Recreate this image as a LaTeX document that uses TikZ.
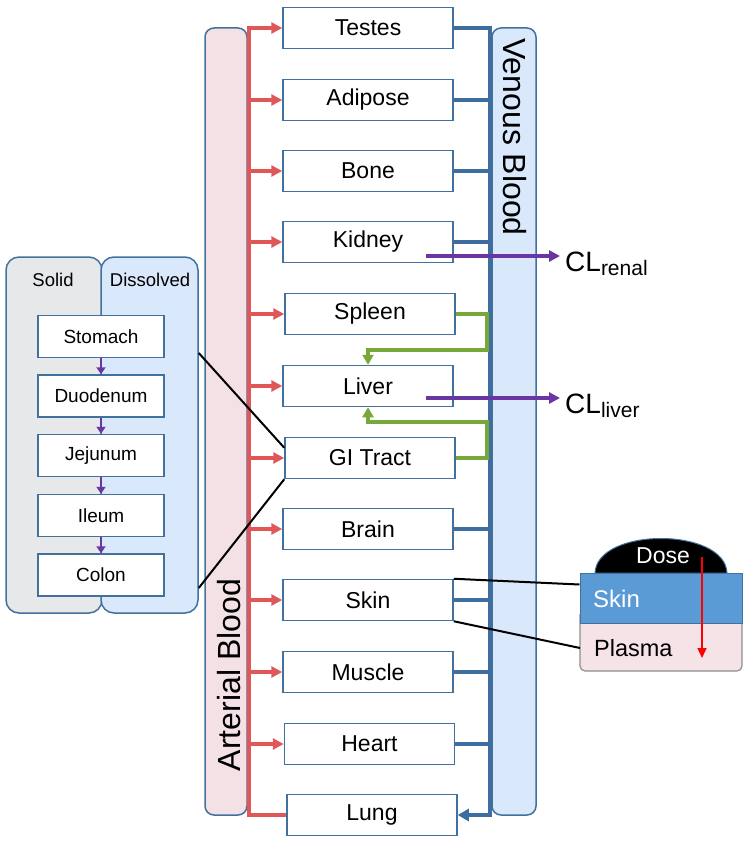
\documentclass[tikz,border=0pt]{standalone}
\usepackage{fontspec}
\setmainfont{Liberation Sans}
\usetikzlibrary{arrows.meta}
\definecolor{boxblue}{HTML}{41719C}
\definecolor{artred}{HTML}{E05757}
\definecolor{venblue}{HTML}{3E6E9F}
\definecolor{artfill}{HTML}{F3E1E6}
\definecolor{venfill}{HTML}{DAE8FC}
\definecolor{solidfill}{HTML}{E7E8EA}
\definecolor{grn}{HTML}{76A83A}
\definecolor{purp}{HTML}{6A36A4}
\definecolor{skinblue}{HTML}{5B9BD5}
\definecolor{plasmafill}{HTML}{F5E3E8}
\definecolor{plasmaedge}{HTML}{8E8E8E}
\begin{document}
\begin{tikzpicture}[x=1pt,y=-1pt,
  organ/.style={draw=boxblue, line width=1.5pt, fill=white, minimum width=170pt, minimum height=41pt, inner sep=0pt, font=\fontsize{23}{27}\selectfont},
  gibox/.style={draw=boxblue, line width=1.5pt, fill=white, minimum width=126pt, minimum height=42pt, inner sep=0pt, font=\fontsize{19}{23}\selectfont},
  barbox/.style={draw=boxblue, line width=1.5pt, rounded corners=9pt},
  redbr/.style={draw=artred, line width=3.5pt, -{Triangle[length=11pt,width=11pt]}},
  redtr/.style={draw=artred, line width=4pt},
  bluebr/.style={draw=venblue, line width=3.5pt},
  bluetr/.style={draw=venblue, line width=4pt},
  grnarrow/.style={draw=grn, line width=3.5pt, -{Triangle[length=10pt,width=11pt]}},
  purarrow/.style={draw=purp, line width=3.5pt, -{Triangle[length=11pt,width=11pt]}},
  giarrow/.style={draw=purp, line width=2pt, -{Triangle[length=7pt,width=9pt]}},
  blk/.style={draw=black, line width=2pt},
  bigtxt/.style={font=\fontsize{32}{36}\selectfont, inner sep=0pt},
  cltxt/.style={font=\fontsize{28}{32}\selectfont, inner sep=0pt, anchor=base west},
]
\useasboundingbox (0,0) rectangle (750,843);

% blood bars
\draw[barbox, fill=artfill] (205,28) rectangle (247,815);
\draw[barbox, fill=venfill] (492,28) rectangle (536,815);
\node[bigtxt, rotate=90] (artlabel) at (229,675) {Arterial Blood};
\node[bigtxt, rotate=-90] (venlabel) at (515,137) {Venous Blood};

% GI panel
\draw[barbox, rounded corners=13pt, fill=solidfill] (6,257) rectangle (102,613);
\node[barbox, rounded corners=13pt, fill=venfill, minimum width=97pt, minimum height=356pt, inner sep=0pt] (dis) at (149.5,435) {};
\node[font=\fontsize{18.5}{22}\selectfont] (solidlab) at (53,280) {Solid};
\node[font=\fontsize{18.5}{22}\selectfont] (dislab) at (150,280) {Dissolved};

% organs
\node[organ] (Testes)  at (368,28)  {Testes};
\node[organ] (Adipose) at (368,100) {Adipose};
\node[organ] (Bone)    at (368,171) {Bone};
\node[organ] (Kidney)  at (368,242) {Kidney};
\node[organ] (Spleen)  at (370,314) {Spleen};
\node[organ] (Liver)   at (368,386) {Liver};
\node[organ] (GI)      at (370,458) {GI Tract};
\node[organ] (Brain)   at (368,529) {Brain};
\node[organ] (Skin)    at (368,600) {Skin};
\node[organ] (Muscle)  at (368,672) {Muscle};
\node[organ] (Heart)   at (369.5,744) {Heart};
\node[organ] (Lung)    at (372,815) {Lung};

\coordinate (ax) at (249,0);
\coordinate (vx) at (490,0);
\coordinate (gx) at (487,0);

% arterial trunk and branches
\draw[redtr] (249,26) -- (ax |- Lung.west) -- (Lung.west);
\foreach \n in {Testes,Adipose,Bone,Kidney,Spleen,Liver,GI,Brain,Skin,Muscle,Heart}
  \draw[redbr] (\n.west -| ax) -- (\n.west);

% venous branches and trunk
\foreach \n in {Testes,Adipose,Bone,Kidney,Brain,Skin,Muscle,Heart}
  \draw[bluebr] (\n.east) -- (\n.east -| vx);
\draw[bluetr, -{Triangle[length=11pt,width=12pt]}] (490,26) -- (vx |- Lung.east) -- (Lung.east);

% portal flows to liver
\coordinate (gy1) at (0,350);
\coordinate (gy2) at (0,422);
\draw[grnarrow] (Spleen.east) -| (gx |- gy1) -- (Liver.north |- gy1) -- (Liver.north);
\draw[grnarrow] (GI.east) -| (gx |- gy2) -- (Liver.south |- gy2) -- (Liver.south);

% clearances
\node[cltxt] (clr) at (565,271) {CL\raisebox{-4.5pt}{\fontsize{21}{24}\selectfont renal}};
\node[cltxt] (cll) at (565,413) {CL\raisebox{-4.5pt}{\fontsize{21}{24}\selectfont liver}};
\coordinate (kend) at (560,256);
\coordinate (lend) at (560,398);
\draw[purarrow] ([shift={(58pt,-14pt)}]Kidney.center) -- (kend);
\draw[purarrow] ([shift={(58pt,-12pt)}]Liver.center) -- (lend);

% GI segments
\node[gibox] (Stomach)  at (101,336.5) {Stomach};
\node[gibox] (Duodenum) at (101,396)   {Duodenum};
\node[gibox] (Jejunum)  at (101,455.5) {Jejunum};
\node[gibox] (Ileum)    at (101,515.5) {Ileum};
\node[gibox] (Colon)    at (101,575)   {Colon};
\draw[giarrow] (Stomach.south) -- (Duodenum.north);
\draw[giarrow] (Duodenum.south) -- (Jejunum.north);
\draw[giarrow] (Jejunum.south) -- (Ileum.north);
\draw[giarrow] (Ileum.south) -- (Colon.north);

\draw[blk] (dis.east |- 0,353) -- ([yshift=-11pt]GI.north west);
\draw[blk] (dis.east |- 0,588) -- (GI.south west);

% dermal dose panel
\draw[draw=boxblue, line width=1pt, fill=black] (595,573) .. controls (597,527) and (725,527) .. (727,573) -- cycle;
\node[font=\fontsize{23}{27}\selectfont, text=white] (doselab) at (663,556) {Dose};
\draw[draw=plasmaedge, line width=1.2pt, fill=plasmafill, rounded corners=5pt] (580,610) rectangle (742,671);
\node[draw=boxblue, line width=1pt, fill=skinblue, minimum width=162pt, minimum height=50pt, inner sep=0pt] (skinlayer) at (661,598) {};
\coordinate (plasma) at (580,648);
\node[anchor=west, font=\fontsize{24}{28}\selectfont, text=white, inner sep=0pt] (skinlab) at (593,599) {Skin};
\node[anchor=west, font=\fontsize{23.5}{28}\selectfont, inner sep=0pt] (plasmalab) at (594,648) {Plasma};
\draw[draw=red, line width=1.5pt, -{Triangle[length=10pt,width=9pt]}] (702,557) -- (702,658);

\draw[blk] (Skin.north east) -- ([yshift=-12pt]skinlayer.north west);
\draw[blk] (Skin.south east) -- (plasma);
\end{tikzpicture}
\end{document}
